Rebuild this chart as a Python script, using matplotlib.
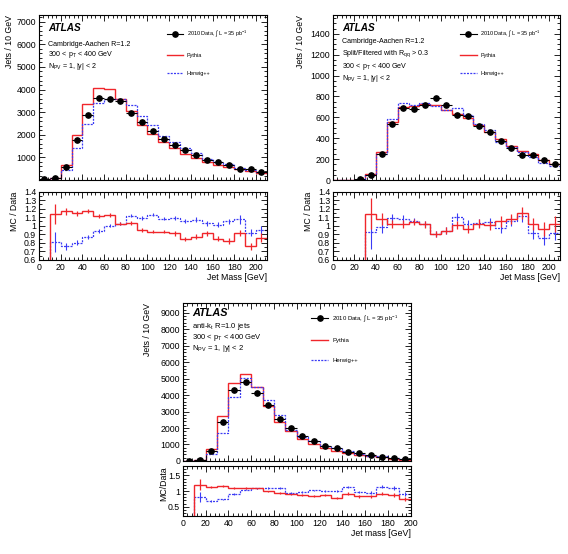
import numpy as np
import matplotlib
matplotlib.use("Agg")
import matplotlib.pyplot as plt
from matplotlib.ticker import AutoMinorLocator, FuncFormatter
from matplotlib.lines import Line2D

plt.rcParams['font.family'] = ['Liberation Sans', 'DejaVu Sans']
plt.rcParams['mathtext.fontset'] = 'custom'
plt.rcParams['mathtext.rm'] = 'Liberation Sans'
plt.rcParams['mathtext.it'] = 'Liberation Sans:italic'

# ---- Cambridge-Aachen R=1.2 (top left), 10 GeV bins from 0 to 210
ca_edges = np.arange(0, 220, 10)
ca_data = [30, 90, 560, 1750, 2860, 3640, 3590, 3490, 2950, 2580, 2170,
           1800, 1540, 1340, 1100, 900, 800, 680, 510, 500, 370]
ca_pythia_ratio = [0, 1.14, 1.17, 1.145, 1.17, 1.115, 1.125, 1.025, 1.03, 0.95, 0.93,
                   0.93, 0.91, 0.845, 0.87, 0.91, 0.85, 0.82, 0.915, 0.76, 0.86]
ca_herwig_ratio = [0, 0.81, 0.76, 0.80, 0.87, 0.94, 1.0, 1.025, 1.12, 1.09, 1.13,
                   1.085, 1.09, 1.055, 1.07, 1.03, 1.01, 1.05, 1.075, 0.92, 0.95]
ca_pythia_err = [0, 0.12, 0.04, 0.03, 0.025, 0.02, 0.02, 0.02, 0.02, 0.02, 0.02,
                 0.02, 0.025, 0.025, 0.03, 0.03, 0.03, 0.035, 0.04, 0.04, 0.05]
ca_herwig_err = [0, 0.12, 0.04, 0.03, 0.025, 0.02, 0.02, 0.02, 0.02, 0.02, 0.02,
                 0.02, 0.025, 0.025, 0.03, 0.03, 0.03, 0.035, 0.05, 0.04, 0.05]

# ---- Cambridge-Aachen R=1.2 split/filtered (top right)
sf_edges = np.arange(0, 220, 10)
sf_data = [np.nan, np.nan, 6, 51, 248, 540, 686, 679, 721, 790, 714,
           625, 613, 517, 460, 371, 302, 244, 244, 194, 149]
sf_pythia_ratio = [0, 0, 0, 1.14, 1.075, 1.02, 1.02, 1.045, 1.015, 0.905, 0.94,
                   1.005, 0.965, 1.025, 1.005, 1.05, 1.075, 1.145, 1.02, 0.965, 1.02]
sf_herwig_ratio = [0, 0, 0, 0.93, 0.99, 1.09, 1.08, 1.055, 1.02, 0.90, 0.94,
                   1.10, 1.02, 1.035, 1.04, 0.97, 1.055, 1.11, 0.91, 0.855, 0.92]
sf_pythia_err = [0, 0, 0, 0.18, 0.07, 0.05, 0.05, 0.04, 0.04, 0.035, 0.04,
                 0.045, 0.045, 0.05, 0.05, 0.06, 0.06, 0.07, 0.07, 0.08, 0.09]
sf_herwig_err = [0, 0, 0, 0.2, 0.07, 0.05, 0.05, 0.04, 0.04, 0.035, 0.04,
                 0.05, 0.045, 0.05, 0.05, 0.06, 0.06, 0.07, 0.07, 0.08, 0.09]

# ---- anti-kt R=1.0 (bottom), 10 GeV bins from 0 to 200
ak_edges = np.arange(0, 210, 10)
ak_data = [10, 40, 630, 2356, 4327, 4794, 4144, 3392, 2519, 2031,
           1523, 1198, 914, 770, 528, 457, 335, 245, 152, 112]
ak_pythia_ratio = [0, 1.21, 1.125, 1.15, 1.10, 1.10, 1.09, 0.99, 0.94, 0.89,
                   0.865, 0.845, 0.885, 0.78, 0.92, 0.83, 0.83, 0.92, 0.875, 0.74]
ak_herwig_ratio = [0, 0.81, 0.68, 0.73, 0.90, 1.05, 1.09, 1.10, 1.10, 0.93,
                   0.97, 1.02, 0.99, 1.0, 1.135, 0.97, 0.94, 1.145, 1.10, 0.90]
ak_pythia_err = [0, 0.17, 0.04, 0.03, 0.025, 0.02, 0.02, 0.02, 0.02, 0.025,
                 0.03, 0.03, 0.03, 0.035, 0.04, 0.04, 0.05, 0.05, 0.06, 0.07]
ak_herwig_err = [0, 0.15, 0.04, 0.03, 0.025, 0.02, 0.02, 0.02, 0.02, 0.025,
                 0.03, 0.03, 0.03, 0.035, 0.04, 0.04, 0.05, 0.05, 0.06, 0.07]

RED = '#f0262b'
BLUE = '#3b3bf5'
HW_LS = (0, (1.6, 1.0))
MS = 3.8


def style(ax, xminor=5, yminor=5):
    ax.xaxis.set_minor_locator(AutoMinorLocator(xminor))
    ax.yaxis.set_minor_locator(AutoMinorLocator(yminor))
    ax.tick_params(which='both', direction='in', top=True, right=True,
                   width=0.6, labelsize=6.3, pad=2)
    ax.tick_params(which='major', length=4)
    ax.tick_params(which='minor', length=2)
    for s in ax.spines.values():
        s.set_linewidth(0.8)


def draw(ax, axr, edges, data, rpy, rhw, epy, ehw):
    data = np.array(data, dtype=float)
    rpy = np.array(rpy)
    rhw = np.array(rhw)
    centers = 0.5 * (edges[:-1] + edges[1:])
    mc_py = np.nan_to_num(data * rpy)
    mc_hw = np.nan_to_num(data * rhw)
    ax.stairs(mc_py, edges, color=RED, lw=1.0, baseline=None)
    ax.stairs(mc_hw, edges, color=BLUE, lw=0.9, ls=HW_LS, baseline=None)
    ok = ~np.isnan(data)
    ax.errorbar(centers[ok], data[ok], xerr=5, fmt='o', color='k', ms=MS,
                elinewidth=0.8, capsize=0, zorder=5)
    axr.stairs(rhw, edges, color=BLUE, lw=0.9, ls=HW_LS, baseline=None)
    axr.stairs(rpy, edges, color=RED, lw=1.0, baseline=None)
    m = rpy > 0
    axr.errorbar(centers[m], rhw[m], yerr=np.array(ehw)[m], fmt='none',
                 ecolor=BLUE, elinewidth=0.8, capsize=0)
    axr.errorbar(centers[m], rpy[m], yerr=np.array(epy)[m], fmt='none',
                 ecolor=RED, elinewidth=0.9, capsize=0)


def legend(ax, x, y, fs):
    handles = [Line2D([], [], color='k', marker='o', ms=MS, lw=0.8),
               Line2D([], [], color=RED, lw=1.0),
               Line2D([], [], color=BLUE, lw=0.9, ls=HW_LS)]
    labels = [r'2010 Data, $\int$ L = 35 pb$^{-1}$', 'Pythia', 'Herwig++']
    ax.legend(handles, labels, loc='upper left', bbox_to_anchor=(x, y),
              frameon=False, fontsize=fs, labelspacing=2.4, handlelength=3.0,
              handletextpad=0.6, borderaxespad=0)


fmt_g = FuncFormatter(lambda v, p: '{:g}'.format(round(v, 3)))

fig = plt.figure(figsize=(5.68, 5.54), dpi=100)

# top left
ax1 = fig.add_axes([0.0687, 0.675, 0.401, 0.298])
ax1r = fig.add_axes([0.0687, 0.531, 0.401, 0.123])
# top right
ax2 = fig.add_axes([0.586, 0.675, 0.400, 0.298])
ax2r = fig.add_axes([0.586, 0.531, 0.400, 0.123])
# bottom
ax3 = fig.add_axes([0.322, 0.168, 0.401, 0.285])
ax3r = fig.add_axes([0.322, 0.0686, 0.401, 0.090])

draw(ax1, ax1r, ca_edges, ca_data, ca_pythia_ratio, ca_herwig_ratio, ca_pythia_err, ca_herwig_err)
draw(ax2, ax2r, sf_edges, sf_data, sf_pythia_ratio, sf_herwig_ratio, sf_pythia_err, sf_herwig_err)
draw(ax3, ax3r, ak_edges, ak_data, ak_pythia_ratio, ak_herwig_ratio, ak_pythia_err, ak_herwig_err)

for ax, axr, xmax in [(ax1, ax1r, 210), (ax2, ax2r, 210), (ax3, ax3r, 200)]:
    ax.set_xlim(0, xmax)
    axr.set_xlim(0, xmax)
    ax.set_xticks(np.arange(0, xmax + 1, 20))
    axr.set_xticks(np.arange(0, xmax + 1, 20))
    style(ax)
    ax.tick_params(labelbottom=False)

ax1.set_ylim(0, 7300)
ax1.set_yticks(np.arange(1000, 7001, 1000))
ax2.set_ylim(0, 1580)
ax2.set_yticks(np.arange(0, 1401, 200))
ax2.yaxis.set_minor_locator(AutoMinorLocator(4))
ax3.set_ylim(0, 9600)
ax3.set_yticks(np.arange(0, 9001, 1000))

for axr in (ax1r, ax2r):
    axr.set_ylim(0.6, 1.4)
    axr.set_yticks(np.arange(0.6, 1.41, 0.1))
    style(axr, 5, 2)
    axr.yaxis.set_major_formatter(fmt_g)
    axr.set_xlabel('Jet Mass [GeV]', loc='right', fontsize=6.3, labelpad=1)
    axr.set_ylabel('MC / Data', loc='top', fontsize=6.3)
ax3r.set_ylim(0.2, 1.8)
ax3r.set_yticks([0.5, 1, 1.5])
style(ax3r, 5, 5)
ax3r.yaxis.set_major_formatter(fmt_g)
ax3r.set_xlabel('Jet mass [GeV]', loc='right', fontsize=6.3, labelpad=1)
ax3r.set_ylabel('MC/Data', loc='top', fontsize=6.3)

for ax in (ax1, ax2, ax3):
    ax.set_ylabel('Jets / 10 GeV', loc='top', fontsize=6.3)

ax1.yaxis.set_label_coords(-0.11, 1)
ax1r.yaxis.set_label_coords(-0.09, 1)
ax2.yaxis.set_label_coords(-0.123, 1)
ax2r.yaxis.set_label_coords(-0.086, 1)
ax3.yaxis.set_label_coords(-0.136, 1)
ax3r.yaxis.set_label_coords(-0.064, 1)


# annotations
def texts(ax, lines, ys, fs, atlas_y, atlas_fs):
    ax.text(0.04, atlas_y, 'ATLAS', transform=ax.transAxes, fontsize=atlas_fs,
            fontweight='bold', fontstyle='italic', va='center')
    for t, y in zip(lines, ys):
        ax.text(0.04, y, t, transform=ax.transAxes, fontsize=fs, va='center')


texts(ax1, ['Cambridge-Aachen R=1.2', r'300 < p$_\mathrm{T}$ < 400 GeV',
            r'N$_\mathrm{PV}$ = 1, |y| < 2'], [0.82, 0.76, 0.69], 5.1, 0.92, 7.2)
texts(ax2, ['Cambridge-Aachen R=1.2', r'Split/Filtered with R$_\mathrm{qq}$ > 0.3',
            r'300 < p$_\mathrm{T}$ < 400 GeV', r'N$_\mathrm{PV}$ = 1, |y| < 2'],
      [0.84, 0.765, 0.69, 0.615], 5.1, 0.92, 7.2)
texts(ax3, ['anti-k$_\mathrm{t}$ R=1.0 jets', r'300 < p$_\mathrm{T}$ < 400 GeV',
            r'N$_\mathrm{PV}$ = 1, |y| < 2'], [0.85, 0.78, 0.71], 5.5, 0.935, 7.8)

legend(ax1, 0.55, 0.93, 4.0)
legend(ax2, 0.55, 0.93, 4.0)
legend(ax3, 0.55, 0.95, 4.3)

fig.savefig('out.png', dpi=100)
